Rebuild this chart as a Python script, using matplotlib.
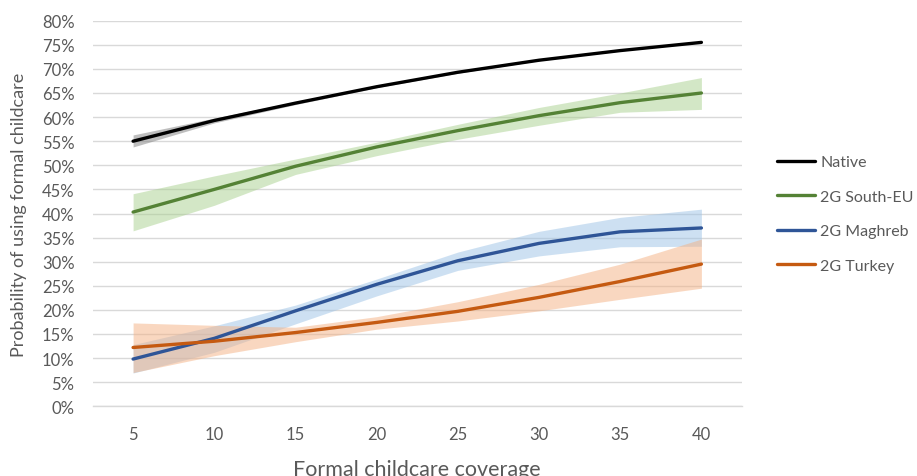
import matplotlib
matplotlib.use("Agg")
import matplotlib.pyplot as plt
from matplotlib.ticker import PercentFormatter

plt.rcParams['font.family'] = ['Lato', 'DejaVu Sans']

coverage = [5, 10, 15, 20, 25, 30, 35, 40]
x_ticks = ['5', '10', '15', '20', '25', '30', '35', '40']

native = [55.0, 59.3, 62.9, 66.3, 69.3, 71.8, 73.8, 75.5]
native_lo = [53.8, 58.8, 62.6, 66.1, 69.1, 71.7, 73.7, 75.4]
native_hi = [56.3, 59.8, 63.2, 66.5, 69.5, 71.9, 73.9, 75.6]

south_eu = [40.3, 45.0, 49.8, 53.8, 57.2, 60.3, 63.0, 65.0]
south_eu_lo = [36.4, 41.7, 48.1, 52.0, 55.4, 58.3, 61.0, 61.6]
south_eu_hi = [44.1, 47.8, 51.3, 54.8, 58.5, 62.0, 65.0, 68.2]

maghreb = [9.8, 14.1, 19.8, 25.3, 30.2, 33.8, 36.2, 37.0]
maghreb_lo = [6.9, 11.2, 17.1, 22.9, 28.2, 31.2, 33.1, 33.2]
maghreb_hi = [12.8, 16.7, 21.0, 26.4, 32.0, 36.3, 39.2, 40.9]

turkey = [12.2, 13.5, 15.3, 17.4, 19.7, 22.6, 25.9, 29.5]
turkey_lo = [7.0, 10.5, 13.4, 16.0, 17.7, 19.8, 22.2, 24.5]
turkey_hi = [17.3, 16.8, 16.4, 18.6, 21.7, 25.3, 29.5, 34.7]

labels = ['Native', '2G South-EU', '2G Maghreb', '2G Turkey']
line_colors = ['#000000', '#548235', '#2F5597', '#C55A11']
band_colors = ['#7F7F7F', '#A9D18E', '#9DC3E6', '#F4B183']

series = [(native, native_lo, native_hi),
          (south_eu, south_eu_lo, south_eu_hi),
          (maghreb, maghreb_lo, maghreb_hi),
          (turkey, turkey_lo, turkey_hi)]

text_color = '#595959'
grid_color = '#D9D9D9'

fig = plt.figure(figsize=(9.17, 4.77), dpi=100)
ax = fig.add_axes([92.5 / 917, 1 - 407.3 / 477, (742 - 92.5) / 917, (407.3 - 21.7) / 477])

for (mid, lo, hi), bc in zip(series, band_colors):
    ax.fill_between(coverage, lo, hi, color=bc, alpha=0.5, linewidth=0, zorder=2)
for (mid, lo, hi), lc, lab in zip(series, line_colors, labels):
    ax.plot(coverage, mid, color=lc, linewidth=2.4, label=lab, zorder=3,
            solid_capstyle='round')

ax.set_xlim(2.5, 42.5)
ax.set_ylim(0, 80)
ax.set_yticks(range(0, 81, 5))
ax.yaxis.set_major_formatter(PercentFormatter(decimals=0))
ax.set_xticks(coverage)
ax.set_xticklabels(x_ticks)
ax.grid(axis='y', color=grid_color, linewidth=1.0, zorder=0)
ax.set_axisbelow(True)
for s in ['top', 'right', 'left']:
    ax.spines[s].set_visible(False)
ax.spines['bottom'].set_color(grid_color)
ax.spines['bottom'].set_linewidth(1.0)
ax.tick_params(axis='both', length=0, labelsize=12, colors=text_color)
ax.tick_params(axis='y', pad=13)
ax.tick_params(axis='x', pad=14)

fig.text(19 / 917, 1 - 214.5 / 477, 'Probability of using formal childcare',
         rotation=90, ha='center', va='center', fontsize=13, color=text_color)
fig.text(417 / 917, 1 - 476 / 477, 'Formal childcare coverage',
         ha='center', va='baseline', fontsize=15.5, color=text_color)

leg = fig.legend(loc='upper left', bbox_to_anchor=(777 / 917, 1 - 156 / 477),
                 frameon=False, fontsize=11.5, handlelength=2.4, handletextpad=0.3,
                 labelspacing=1.28, borderpad=0, borderaxespad=0)
for t in leg.get_texts():
    t.set_color(text_color)

fig.savefig('out.png', dpi=100)
